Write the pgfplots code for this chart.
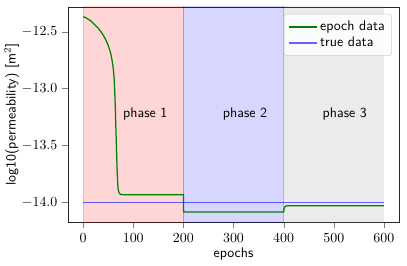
\documentclass[border=0pt]{standalone}
\usepackage{pgfplots}
\pgfplotsset{compat=1.18}
\definecolor{mplgreen}{HTML}{008000}
\begin{document}
\begin{tikzpicture}
\begin{axis}[
  name=ax,
  scale only axis,
  width=238pt, height=155pt,
  xmin=-30, xmax=630,
  ymin=-14.176, ymax=-12.283,
  xtick={0,100,...,600},
  ytick={-14,-13.5,-13,-12.5},
  yticklabel style={/pgf/number format/fixed,/pgf/number format/fixed zerofill,/pgf/number format/precision=1},
  tick align=outside,
  tick pos=left,
  xlabel={\sffamily epochs},
  ylabel={\sffamily log10(permeability) [m$^2$]},
  xlabel style={yshift=3pt},
  ylabel style={yshift=-5pt},
  axis line style={black!85},
  legend style={at={(1,1)}, anchor=north east, xshift=-5pt, yshift=-5pt,
    font=\sffamily, draw=black!20, rounded corners=2pt, fill=white, fill opacity=0.8, text opacity=1,
    row sep=-1pt, inner sep=3pt},
  legend cell align=left,
  legend image code/.code={\draw[#1] (0pt,0pt) -- (20pt,0pt);},
  clip=true,
]
\addplot[forget plot, draw=none, fill=black!50, fill opacity=0.16] coordinates {(400,-15) (600,-15) (600,-12) (400,-12)} -- cycle;
\addplot[forget plot, draw=red, fill=red, fill opacity=0.16, draw opacity=0.16] coordinates {(0,-15) (200,-15) (200,-12) (0,-12)} -- cycle;
\addplot[forget plot, draw=blue, fill=blue, fill opacity=0.16, draw opacity=0.2] coordinates {(200,-15) (400,-15) (400,-12) (200,-12)} -- cycle;
\addplot[mplgreen, line width=0.9pt] coordinates {
(0,-12.368) (5,-12.377) (10,-12.39) (15,-12.405) (20,-12.425) (25,-12.447) (30,-12.47) (35,-12.498) (40,-12.53) (45,-12.57) (50,-12.62) (55,-12.69) (58,-12.76) (60,-12.82) (62,-12.92) (63,-13.02) (64,-13.15) (65,-13.3) (66,-13.45) (67,-13.6) (68,-13.74) (69,-13.84) (70,-13.89) (72,-13.92) (75,-13.93) (80,-13.933) (200,-13.933)
(200.5,-14.085) (400,-14.085) (401,-14.05) (403,-14.035) (406,-14.03) (600,-14.03)};
\addlegendentry{epoch data}
\addplot[blue, opacity=0.6, line width=0.9pt] coordinates {(0,-14.0) (600,-14.0)};
\addlegendentry{true data}
\node[font=\sffamily] at (axis cs:124,-13.22) {phase 1};
\node[font=\sffamily] at (axis cs:323,-13.22) {phase 2};
\node[font=\sffamily] at (axis cs:522,-13.22) {phase 3};
\end{axis}
\pgfresetboundingbox
\path ([shift={(-49pt,-31pt)}]ax.south west) rectangle ([shift={(5.8pt,5pt)}]ax.north east);
\end{tikzpicture}
\end{document}
